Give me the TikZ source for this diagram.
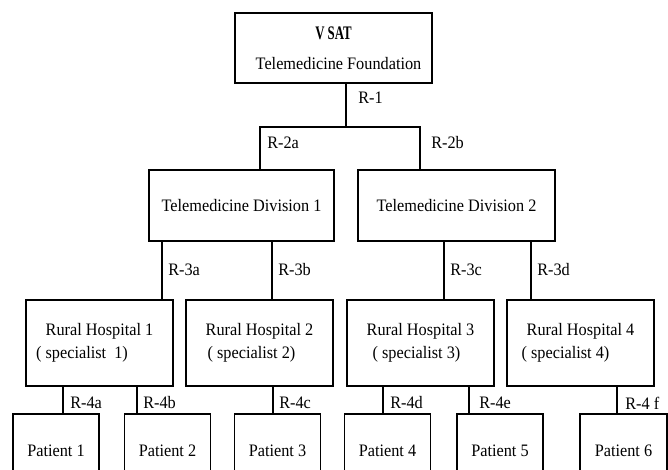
\documentclass[tikz,border=0pt]{standalone}
\usepackage{fontspec}
\setmainfont[FakeStretch=0.93]{Liberation Serif}
\usetikzlibrary{positioning}

\tikzset{
  unit/.style={draw, line width=1.1pt, inner sep=0pt, align=center},
  link/.style={line width=1.1pt},
  rlabel/.style={anchor=west, inner sep=0pt}
}

\begin{document}
\begin{tikzpicture}[x=0.6pt, y=-0.6pt, every node/.style={font=\fontsize{10.5}{12}\selectfont}]
       % Page
       \useasboundingbox (0,0) rectangle (668,470);
       \clip (0,0) rectangle (668,470);

       % Nodes
       \node[unit, minimum width=118.2pt, minimum height=42pt] (top) at (333.5,48)
           {\scalebox{0.72}[1]{\fontsize{11.5}{12}\selectfont\textbf{V SAT}}\\[6pt]\hspace*{6pt}Telemedicine Foundation};
       \node[unit, minimum width=111pt, minimum height=42.6pt] (div1) at (241.5,205.5) {Telemedicine Division 1};
       \node[unit, minimum width=118.2pt, minimum height=42.6pt] (div2) at (456.5,205.5) {Telemedicine Division 2};

       \node[unit, minimum width=88.2pt, minimum height=51.6pt] (rh1) at (99.5,343)
           {Rural Hospital 1\\[1.8pt]( specialist~~1)\hspace*{21pt}};
       \node[unit, minimum width=88.2pt, minimum height=51.6pt] (rh2) at (259.5,343)
           {Rural Hospital 2\\[1.8pt]( specialist 2)\hspace*{9.6pt}};
       \node[unit, minimum width=88.2pt, minimum height=51.6pt] (rh3) at (420.5,343)
           {Rural Hospital 3\\[1.8pt]( specialist 3)\hspace*{4.8pt}};
       \node[unit, minimum width=88.2pt, minimum height=51.6pt] (rh4) at (580.5,343)
           {Rural Hospital 4\\[1.8pt]( specialist 4)\hspace*{18pt}};

       \node[unit, minimum width=51.6pt, minimum height=44.4pt] (p1) at (56,451) {Patient 1};
       \node[unit, minimum width=51.6pt, minimum height=44.4pt] (p2) at (167.5,451) {Patient 2};
       \node[unit, minimum width=51.6pt, minimum height=44.4pt] (p3) at (277.5,451) {Patient 3};
       \node[unit, minimum width=51.6pt, minimum height=44.4pt] (p4) at (387.5,451) {Patient 4};
       \node[unit, minimum width=51.6pt, minimum height=44.4pt] (p5) at (500,451) {Patient 5};
       \node[unit, minimum width=52.2pt, minimum height=44.4pt] (p6) at (623.5,451) {Patient 6};

       % Drop points
       \coordinate (j1) at (346,127);
       \coordinate (j2a) at (260,127);
       \coordinate (j2b) at (420,127);
       \coordinate (d3a) at (162,0);
       \coordinate (d3b) at (272,0);
       \coordinate (d3c) at (444,0);
       \coordinate (d3d) at (531,0);
       \coordinate (d4a) at (63,0);
       \coordinate (d4b) at (137,0);
       \coordinate (d4c) at (273,0);
       \coordinate (d4d) at (383,0);
       \coordinate (d4e) at (469,0);
       \coordinate (d4f) at (617,0);

       % Links
       \draw[link] (top.south -| j1) -- (j1);
       \draw[link] (div1.north -| j2a) -- (j2a) -- (j2b) -- (div2.north -| j2b);

       \draw[link] (div1.south -| d3a) -- (rh1.north -| d3a);
       \draw[link] (div1.south -| d3b) -- (rh2.north -| d3b);
       \draw[link] (div2.south -| d3c) -- (rh3.north -| d3c);
       \draw[link] (div2.south -| d3d) -- (rh4.north -| d3d);

       \draw[link] (rh1.south -| d4a) -- (p1.north -| d4a);
       \draw[link] (rh1.south -| d4b) -- (p2.north -| d4b);
       \draw[link] (rh2.south -| d4c) -- (p3.north -| d4c);
       \draw[link] (rh3.south -| d4d) -- (p4.north -| d4d);
       \draw[link] (rh3.south -| d4e) -- (p5.north -| d4e);
       \draw[link] (rh4.south -| d4f) -- (p6.north -| d4f);

       % Labels
       \node[rlabel] (l1) at (358,98) {R-1};
       \node[rlabel] (l2a) at (267,143) {R-2a};
       \node[rlabel] (l2b) at (431,143) {R-2b};
       \node[rlabel] (l3a) at (168,270) {R-3a};
       \node[rlabel] (l3b) at (278,270) {R-3b};
       \node[rlabel] (l3c) at (450,270) {R-3c};
       \node[rlabel] (l3d) at (537,270) {R-3d};
       \node[rlabel] (l4a) at (70,403) {R-4a};
       \node[rlabel] (l4b) at (143,403) {R-4b};
       \node[rlabel] (l4c) at (279,403) {R-4c};
       \node[rlabel] (l4d) at (390,403) {R-4d};
       \node[rlabel] (l4e) at (479,403) {R-4e};
       \node[rlabel] (l4f) at (625,403) {R-4 f};
\end{tikzpicture}
\end{document}
